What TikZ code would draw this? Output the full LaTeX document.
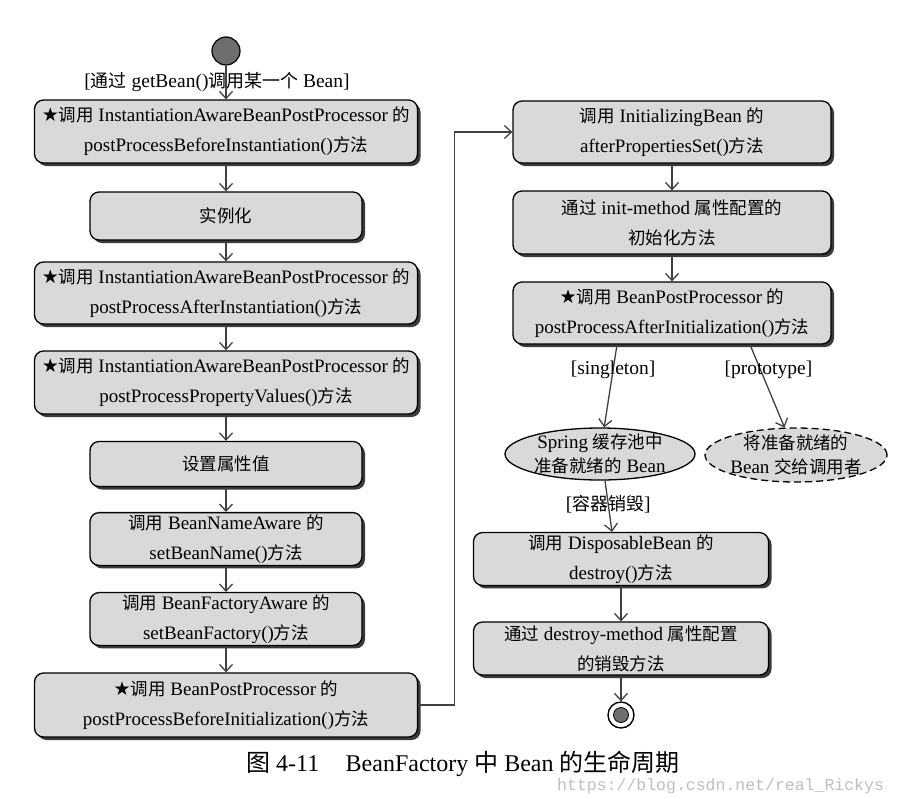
\documentclass[tikz,border=0pt]{standalone}
\usepackage{fontspec}
\setmainfont{Liberation Serif}
\newfontfamily\cjk[Scale=0.92]{Noto Sans CJK SC}
\newfontfamily\cjkfull{Noto Sans CJK SC}
\newfontfamily\starfont[Scale=1.0]{DejaVu Sans}
\newfontfamily\wmfont{Liberation Mono}
\usetikzlibrary{arrows.meta,shadows,shapes.geometric}
\newcommand\zh[1]{{\cjk #1}}
\newcommand\zhf[1]{{\cjkfull #1}}
\newcommand\starmark{{\starfont ★}}
\definecolor{boxfill}{HTML}{D9D9D9}
\definecolor{linegray}{HTML}{404040}
\definecolor{shadowgray}{HTML}{3A3A3A}
\definecolor{dotgray}{HTML}{6E6E6E}
\tikzset{
  pbox/.style={draw=black, line width=1.3pt, fill=boxfill, rounded corners=9pt,
    align=center, font=\fontsize{19}{30}\selectfont, inner sep=2pt,
    drop shadow={shadow xshift=3pt, shadow yshift=-3pt, fill=shadowgray, opacity=1}},
  widebox/.style={pbox, minimum width=383pt},
  narrowbox/.style={pbox, minimum width=272pt},
  rightbox/.style={pbox, minimum width=318pt, minimum height=62pt},
  lowbox/.style={pbox, minimum width=295pt},
  flow/.style={draw=linegray, line width=1.3pt,
    -{Straight Barb[length=7pt,width=13pt,line width=1.3pt]}},
  lbl/.style={font=\fontsize{19.5}{22}\selectfont, inner sep=1pt},
  ell/.style={ellipse, draw=black, line width=1.3pt, fill=boxfill, align=center,
    font=\fontsize{19}{24}\selectfont, inner xsep=-16pt, inner ysep=-10pt},
  startdot/.style={circle, draw=black, line width=1.2pt, fill=dotgray,
    minimum size=28pt, inner sep=0pt},
  endring/.style={circle, draw=black, line width=1.4pt, fill=white,
    minimum size=26pt, inner sep=0pt},
  endcore/.style={circle, draw=black, line width=0.8pt, fill=dotgray,
    minimum size=15pt, inner sep=0pt},
}
\begin{document}
\begin{tikzpicture}[x=1pt,y=-1pt]
\useasboundingbox[fill=white] (0,0) rectangle (901,798);

% start
\node[startdot] (st) at (226,51) {};

% left column
\node[widebox, minimum height=63pt] (b1) at (226,131.5)
  {\starmark\zh{调用} InstantiationAwareBeanPostProcessor \zh{的}\\postProcessBeforeInstantiation()\zh{方法}};
\node[narrowbox, minimum height=48pt] (b2) at (226,216) {\zh{实例化}};
\node[widebox, minimum height=62pt] (b3) at (226,293)
  {\starmark\zh{调用} InstantiationAwareBeanPostProcessor \zh{的}\\postProcessAfterInstantiation()\zh{方法}};
\node[widebox, minimum height=63pt] (b4) at (226,382.5)
  {\starmark\zh{调用} InstantiationAwareBeanPostProcessor \zh{的}\\postProcessPropertyValues()\zh{方法}};
\node[narrowbox, minimum height=45pt] (b5) at (226,464) {\zh{设置属性值}};
\node[narrowbox, minimum height=52pt] (b6) at (226,539)
  {\zh{调用} BeanNameAware \zh{的}\\setBeanName()\zh{方法}};
\node[narrowbox, minimum height=52pt] (b7) at (226,619)
  {\zh{调用} BeanFactoryAware \zh{的}\\setBeanFactory()\zh{方法}};
\node[widebox, minimum height=64pt] (b8) at (226,705)
  {\starmark\zh{调用} BeanPostProcessor \zh{的}\\postProcessBeforeInitialization()\zh{方法}};

% right column
\node[rightbox] (r1) at (672,132)
  {\zh{调用} InitializingBean \zh{的}\\afterPropertiesSet()\zh{方法}};
\node[rightbox, minimum height=63pt] (r2) at (672,222.5)
  {\zh{通过} init-method \zh{属性配置的}\\\zh{初始化方法}};
\node[rightbox, minimum height=62pt] (r3) at (672,313)
  {\starmark\zh{调用} BeanPostProcessor \zh{的}\\postProcessAfterInitialization()\zh{方法}};

\node[ell, minimum width=190pt, minimum height=52pt] (sg) at (600,454)
  {Spring \zh{缓存池中}\\\zh{准备就绪的} Bean};
\node[ell, dashed, dash pattern=on 7pt off 4pt, minimum width=182pt, minimum height=54pt] (pt) at (796,455)
  {\zh{将准备就绪的}\\Bean \zh{交给调用者}};

\node[lowbox, minimum height=52pt] (d1) at (621,559)
  {\zh{调用} DisposableBean \zh{的}\\destroy()\zh{方法}};
\node[lowbox, minimum height=53pt] (d2) at (621,648.5)
  {\zh{通过} destroy-method \zh{属性配置}\\\zh{的销毁方法}};

\node[endring] (en) at (621,715) {};
\node[endcore] (enc) at (en) {};

% connectors
\draw[flow] (st) -- node[lbl, pos=0.5, xshift=-9pt] (l0) {[\zh{通过} getBean()\zh{调用某一个} Bean]} (b1);
\draw[flow] (b1) -- (b2);
\draw[flow] (b2) -- (b3);
\draw[flow] (b3) -- (b4);
\draw[flow] (b4) -- (b5);
\draw[flow] (b5) -- (b6);
\draw[flow] (b6) -- (b7);
\draw[flow] (b7) -- (b8);
\draw[flow] (b8.east) -- ++(36,0) |- (r1.west);
\draw[flow] (r1) -- (r2);
\draw[flow] (r2) -- (r3);
\draw[flow] ([xshift=-55pt]r3.south) -- node[lbl, pos=0.3] (l1) {[singleton]} (sg);
\draw[flow] ([xshift=78pt]r3.south) -- node[lbl, pos=0.3, xshift=8pt] (l2) {[prototype]} (pt);
\draw[flow] ([xshift=5pt]sg.south) -- node[lbl, pos=0.45] (l3) {[\zh{容器销毁}]} ([xshift=-9pt]d1.north);
\draw[flow] (d1) -- (d2);
\draw[flow] (d2) -- (en);

% caption
\node[font=\fontsize{24}{26}\selectfont, anchor=west, inner sep=0pt] (cap) at (246,764)
  {\zhf{图} 4-11\hspace{1.1em}BeanFactory \zhf{中} Bean \zhf{的生命周期}};
\node[font=\wmfont\fontsize{16.5}{18}\selectfont, text=black!25, anchor=west, inner sep=0pt] (wm) at (557,786)
  {https://blog.csdn.net/real\_Rickys};
\end{tikzpicture}
\end{document}
